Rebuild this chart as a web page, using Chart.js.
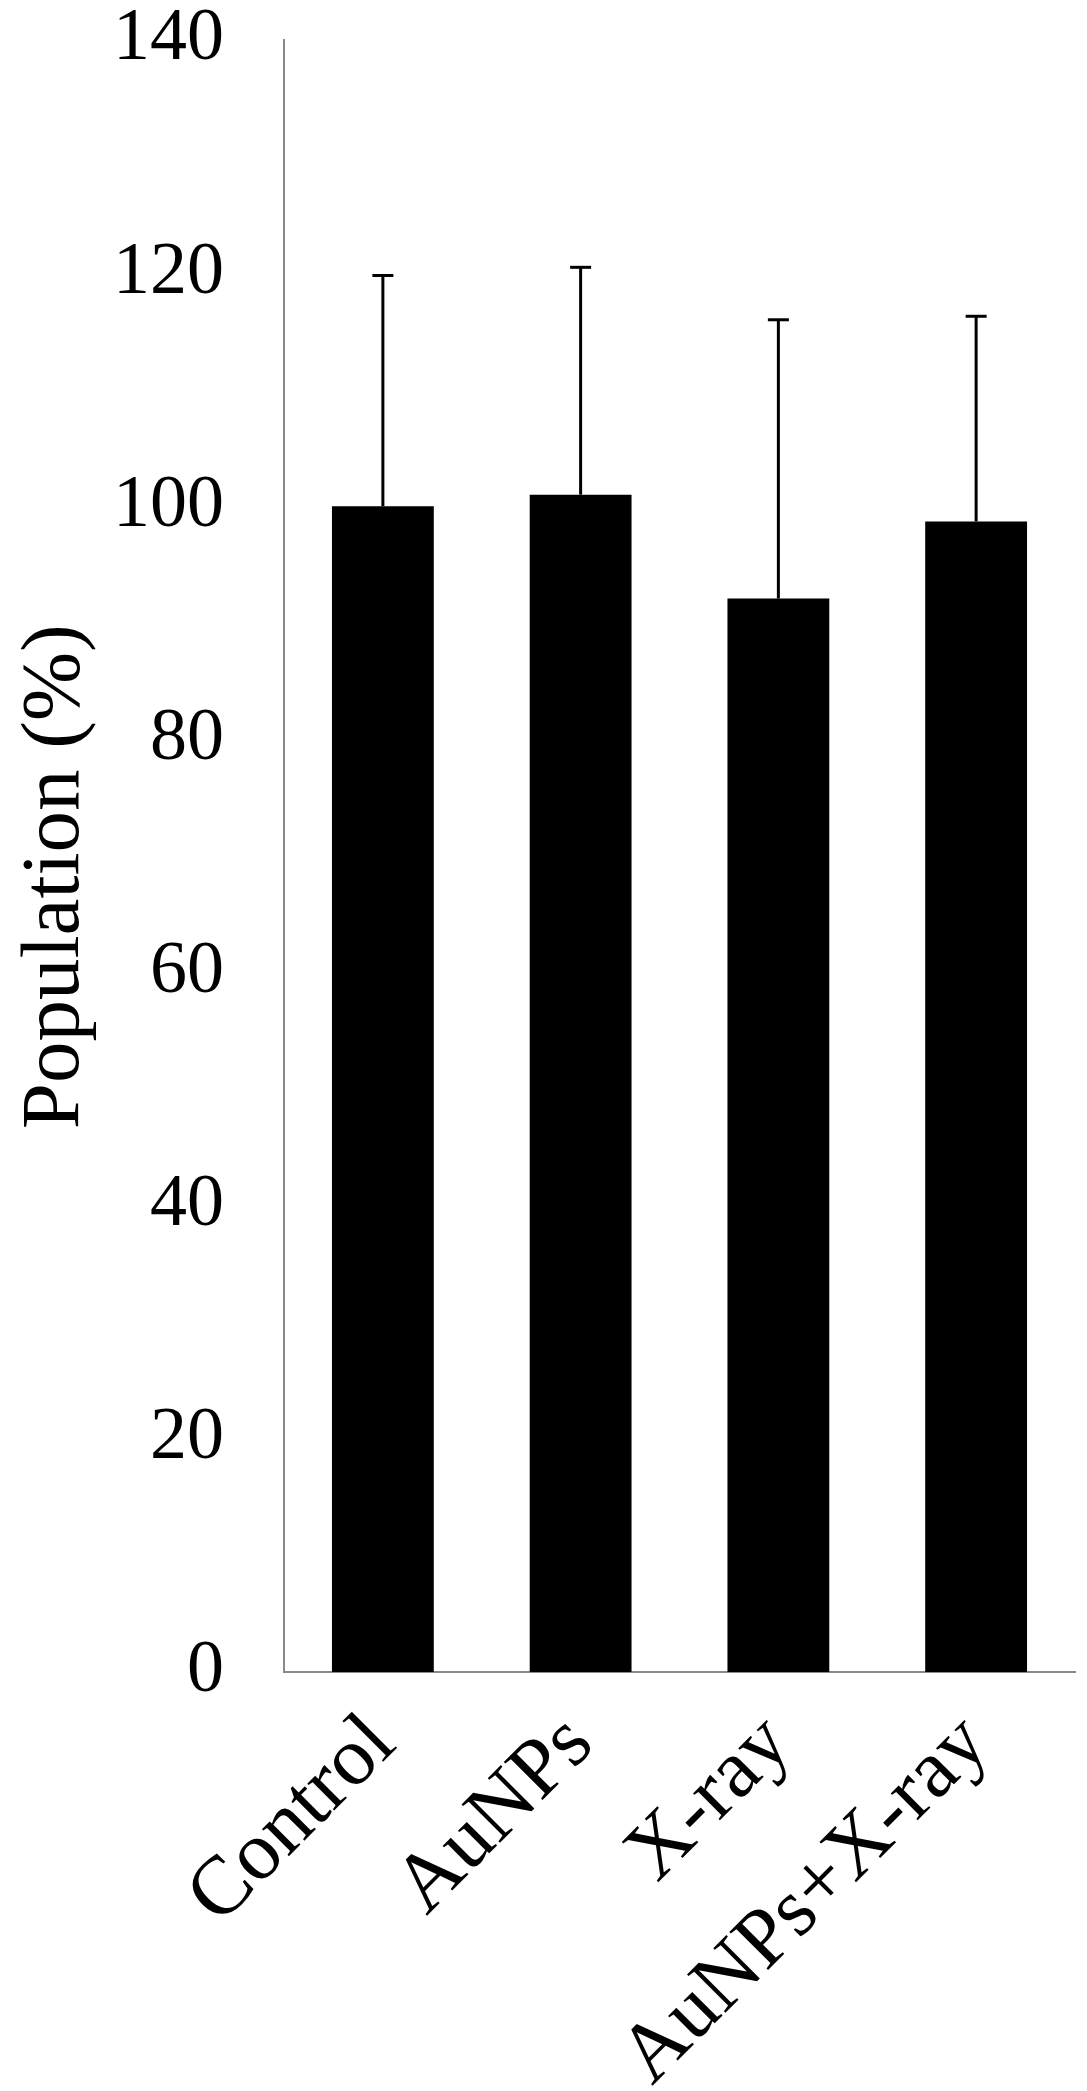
<!DOCTYPE html>
<html>
<head>
<meta charset="utf-8">
<script src="https://cdn.jsdelivr.net/npm/chart.js@4/dist/chart.umd.min.js"></script>
<style>
  html, body { margin: 0; padding: 0; background: #fff; }
  #wrap { width: 1087px; height: 2091px; position: relative; }
</style>
</head>
<body>
<div id="wrap"><canvas id="c" width="1087" height="2091"></canvas></div>
<script>
const categories = ['Control', 'AuNPs', 'X-ray', 'AuNPs+X-ray'];
const meanValues = [100.0, 101.0, 92.1, 98.7];
const errorValues = [19.8, 19.5, 23.9, 17.6];
const yTicks = [0, 20, 40, 60, 80, 100, 120, 140];
const yTitle = 'Population (%)';

const FONT = "'Liberation Serif', 'Times New Roman', serif";

const errorBarPlugin = {
  id: 'errorBars',
  afterDatasetsDraw(chart) {
    const ctx = chart.ctx;
    const meta = chart.getDatasetMeta(0);
    const yScale = chart.scales.y;
    ctx.save();
    ctx.strokeStyle = '#000';
    ctx.lineWidth = 3;
    meta.data.forEach((bar, i) => {
      const x = bar.x;
      const yTop = yScale.getPixelForValue(meanValues[i] + errorValues[i]);
      const yBase = yScale.getPixelForValue(meanValues[i]);
      ctx.beginPath();
      ctx.moveTo(x, yBase);
      ctx.lineTo(x, yTop);
      ctx.stroke();
      ctx.beginPath();
      ctx.moveTo(x - 10.5, yTop);
      ctx.lineTo(x + 10.5, yTop);
      ctx.stroke();
    });
    ctx.restore();
  }
};

new Chart(document.getElementById('c'), {
  type: 'bar',
  data: {
    labels: categories,
    datasets: [{
      data: meanValues,
      backgroundColor: '#000',
      borderWidth: 0,
      categoryPercentage: 1.0,
      barPercentage: 0.515
    }]
  },
  options: {
    responsive: false,
    animation: false,
    devicePixelRatio: 1,
    layout: { padding: { top: 40, right: 12, left: 0, bottom: 0 } },
    plugins: { legend: { display: false }, tooltip: { enabled: false } },
    scales: {
      x: {
        grid: { display: false, drawTicks: false },
        border: { display: true, color: '#8a8a8a', width: 2 },
        ticks: {
          color: '#000',
          font: { family: FONT, size: 83 },
          maxRotation: 45,
          minRotation: 45,
          padding: 24,
          autoSkip: false
        },
        afterFit(scale) { scale.height = 2091 - 1672; scale.paddingLeft = 0; scale.paddingRight = 0; }
      },
      y: {
        min: 0,
        max: 140,
        afterBuildTicks(scale) { scale.ticks = yTicks.map(v => ({ value: v })); },
        grid: { display: false, drawTicks: false },
        border: { display: true, color: '#8a8a8a', width: 2 },
        ticks: {
          color: '#000',
          font: { family: FONT, size: 74 },
          padding: 60
        },
        title: {
          display: true,
          text: yTitle + '  ',
          color: '#000',
          font: { family: FONT, size: 83 },
          padding: { top: 6, bottom: 0 }
        },
        afterFit(scale) { scale.width = 284; scale.paddingTop = 0; scale.paddingBottom = 0; }
      }
    }
  },
  plugins: [errorBarPlugin]
});
</script>
</body>
</html>
